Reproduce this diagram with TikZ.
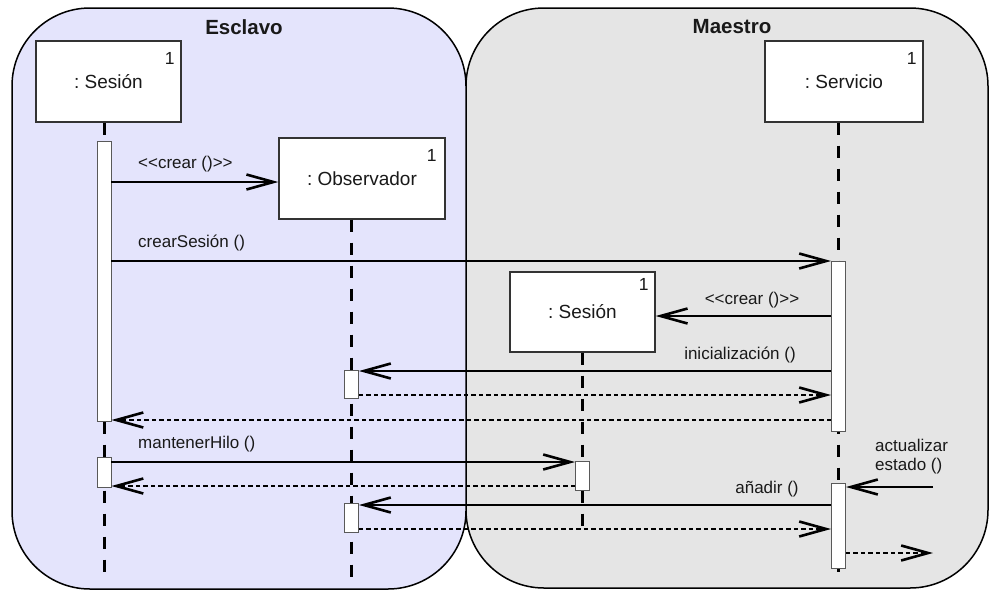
\documentclass[tikz,border=0pt]{standalone}
\usepackage{fontspec}
\setmainfont{Liberation Sans}
\usetikzlibrary{arrows.meta}
\definecolor{slavefill}{RGB}{228,228,252}
\definecolor{masterfill}{RGB}{229,229,229}
\definecolor{ink}{RGB}{25,25,25}
\frenchspacing

\begin{document}
\begin{tikzpicture}[x=1pt,y=-1pt,
  region/.style={draw=black, line width=1.5pt, rounded corners=78pt},
  regiontitle/.style={font=\fontsize{20.5}{24}\selectfont\bfseries, text=ink, inner sep=0pt},
  object/.style={draw=black!80, line width=1.4pt, fill=white, inner sep=0pt,
    font=\fontsize{19}{22}\selectfont, text=ink},
  mult/.style={font=\fontsize{17.5}{20}\selectfont, text=ink, inner sep=0pt},
  bar/.style={draw=black!65, line width=0.9pt, fill=white, inner sep=0pt, minimum width=14pt},
  lifeline/.style={line width=3pt, dash pattern=on 12pt off 11pt},
  msg/.style={line width=1.3pt, -{Straight Barb[length=27pt,width=15pt,line width=2.6pt]}},
  reply/.style={msg, dash pattern=on 4.5pt off 3pt},
  msglabel/.style={font=\fontsize{17}{20}\selectfont, text=ink, inner sep=0pt},
]
\useasboundingbox (0,0) rectangle (989,590);

% swimlanes
\draw[region, fill=masterfill] (466,8) rectangle (988,588);
\draw[region, fill=slavefill] (12,8) rectangle (466,589);
\node[regiontitle] (tslave) at (244,27) {Esclavo};
\node[regiontitle] (tmaster) at (732,27) {Maestro};

% objects
\node[object, minimum width=145pt, minimum height=81pt] (s1) at (108.5,81.5) {: Sesión};
\node[object, minimum width=166pt, minimum height=81pt] (obs) at (362,178.5) {: Observador};
\node[object, minimum width=158pt, minimum height=81pt] (srv) at (844,81.5) {: Servicio};
\node[object, minimum width=145pt, minimum height=80pt] (s2) at (582.5,312) {: Sesión};
\node[mult] (n1) at ([xshift=-12pt,yshift=-18pt]s1.north east) {1};
\node[mult] (n2) at ([xshift=-14pt,yshift=-18pt]obs.north east) {1};
\node[mult] (n3) at ([xshift=-12pt,yshift=-18pt]srv.north east) {1};
\node[mult] (n4) at ([xshift=-12pt,yshift=-13pt]s2.north east) {1};

% lifeline ends
\coordinate (e1) at (104,573);
\coordinate (e2) at (351.5,578);
\coordinate (e3) at (838.5,576);
\coordinate (e4) at (582.5,533);

% lifelines
\draw[lifeline] (e1 |- s1.south) -- (e1);
\draw[lifeline] (e2 |- obs.south) -- (e2);
\draw[lifeline] (e3 |- srv.south) -- (e3);
\draw[lifeline] (e4 |- s2.south) -- (e4);

% activation bars
\node[bar, minimum height=280pt] (a1) at (104,281) {};
\node[bar, minimum height=30pt] (a2) at (104,472) {};
\node[bar, minimum height=28pt] (b1) at (351.5,384) {};
\node[bar, minimum height=29pt] (b2) at (351.5,517.5) {};
\node[bar, minimum height=170pt] (c1) at (838.5,346) {};
\node[bar, minimum height=85pt] (c2) at (838.5,525.5) {};
\node[bar, minimum height=29pt] (d1) at (582.5,475.5) {};

% free ends
\coordinate (ext1) at (933,487);
\coordinate (ext2) at (933,553);

% messages
\draw[msg] (a1.east |- 0,182) -- (obs.west |- 0,182);
\draw[msg] (a1.east |- 0,261) -- (c1.west |- 0,261);
\draw[msg] (c1.west |- 0,316) -- (s2.east |- 0,316);
\draw[msg] (c1.west |- 0,371) -- (b1.east |- 0,371);
\draw[reply] (b1.east |- 0,395) -- (c1.west |- 0,395);
\draw[reply] (c1.west |- 0,420) -- (a1.east |- 0,420);
\draw[msg] (a2.east |- 0,462) -- (d1.west |- 0,462);
\draw[reply] (d1.west |- 0,486) -- (a2.east |- 0,486);
\draw[msg] (ext1) -- (c2.east |- ext1);
\draw[msg] (c2.west |- 0,505) -- (b2.east |- 0,505);
\draw[reply] (b2.east |- 0,529) -- (c2.west |- 0,529);
\draw[reply] (c2.east |- ext2) -- (ext2);

% message labels
\node[msglabel, anchor=west] (l1) at (138,164) {<{}<crear ()>{}>};
\node[msglabel, anchor=west] (l2) at (138,243) {crearSesión ()};
\node[msglabel] (l3) at (752,300) {<{}<crear ()>{}>};
\node[msglabel] (l4) at (740,355) {inicialización ()};
\node[msglabel, anchor=west] (l5) at (138,444) {mantenerHilo ()};
\node[msglabel, anchor=west, align=left] (l6) at (875,456.5) {actualizar\\[-1pt]estado ()};
\node[msglabel] (l7) at (767,489) {añadir ()};
\end{tikzpicture}
\end{document}
